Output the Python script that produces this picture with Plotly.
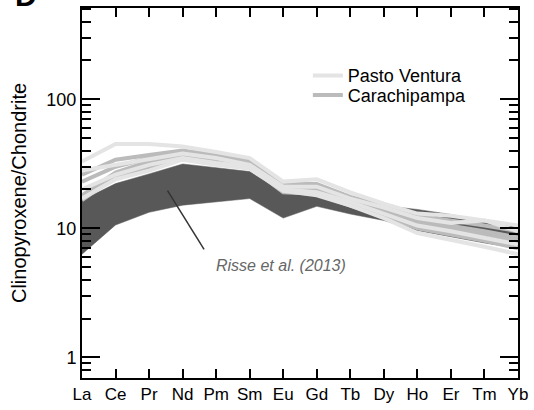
import plotly.graph_objects as go

elements = ["La", "Ce", "Pr", "Nd", "Pm", "Sm", "Eu", "Gd", "Tb", "Dy", "Ho", "Er", "Tm", "Yb"]

# Risse et al. (2013) field
risse_upper = [16.5, 22.2, 26.4, 31.5, 29.5, 27.5, 19.0, 19.5, 16.0, 15.0, 14.0, 12.8, 11.4, 10.2]
risse_lower = [6.3, 10.6, 13.3, 15.1, 16.0, 17.0, 12.0, 14.8, 12.9, 11.5, 9.6, 8.6, 7.7, 7.0]

# Carachipampa samples
cp_1 = [26, 34, 37, 40, 37, 33, 22, 22, 17.5, 15, 12.5, 11.5, 10.5, 9.5]
cp_2 = [23, 30, 35, 38, 35, 32, 21, 20, 16.5, 14, 11.5, 10.5, 9.5, 8.5]
cp_3 = [18, 27, 33, 37, 34, 31, 20, 19.5, 16, 13.5, 11, 10, 9, 8]
cp_4 = [16.5, 25, 30, 35, 32, 30, 19, 18.5, 15, 12.5, 10, 9, 8, 7]

# Pasto Ventura samples
pv_1 = [33, 45, 45, 43, 39, 35, 23, 24, 19, 15.5, 13, 12.5, 11.5, 10.5]
pv_2 = [28, 31, 34, 38, 35, 31, 21, 21, 17, 14.5, 12, 11, 11.5, 9.5]
pv_3 = [20, 26, 31, 35, 32, 30, 20, 19, 16, 13, 10.5, 9.5, 8.5, 7.5]
pv_4 = [17, 24, 28, 34, 31, 29, 19.5, 18, 15, 12, 9.2, 8.2, 7.2, 6.3]

# leader line for annotation (element index, value)
leader_x = [2.55, 3.64]
leader_y = [19.6, 6.87]

xs = list(range(len(elements)))
FONT = "Liberation Sans, Arial, sans-serif"
Y_RANGE = [-0.16, 2.707]
X_RANGE = [0, 13]

fig = go.Figure()

fig.add_trace(go.Scatter(
    x=xs + xs[::-1], y=risse_upper + risse_lower[::-1],
    fill="toself", fillcolor="#585858", mode="lines",
    line=dict(color="#585858", width=0.5), showlegend=False, hoverinfo="skip"))

for i, s in enumerate([cp_1, cp_2, cp_3, cp_4]):
    fig.add_trace(go.Scatter(
        x=xs, y=s, mode="lines", line=dict(color="#bbbbbb", width=4),
        name="Carachipampa", legendgroup="cp", legend="legend2", showlegend=(i == 0)))

for i, s in enumerate([pv_1, pv_2, pv_3, pv_4]):
    fig.add_trace(go.Scatter(
        x=xs, y=s, mode="lines", line=dict(color="#e4e4e4", width=4),
        name="Pasto Ventura", legendgroup="pv", legend="legend", showlegend=(i == 0)))

fig.add_trace(go.Scatter(
    x=leader_x, y=leader_y, mode="lines", line=dict(color="#333333", width=1.5),
    showlegend=False, hoverinfo="skip"))

# invisible traces to activate the mirrored tick axes (top and right)
fig.add_trace(go.Scatter(
    x=[xs[0]], y=[risse_upper[0]], xaxis="x2", yaxis="y", mode="markers",
    marker=dict(opacity=0), showlegend=False, hoverinfo="skip"))
fig.add_trace(go.Scatter(
    x=[xs[0]], y=[risse_upper[0]], xaxis="x", yaxis="y2", mode="markers",
    marker=dict(opacity=0), showlegend=False, hoverinfo="skip"))

fig.add_annotation(
    x=5.92, y=0.715, xref="x", yref="y", text="<i>Risse et al. (2013)</i>",
    showarrow=False, font=dict(family=FONT, size=16, color="#666666"))

fig.add_annotation(
    x=-0.128, y=0.984, xref="paper", yref="paper", text="<b>D</b>",
    showarrow=False, xanchor="center", yanchor="bottom",
    font=dict(family=FONT, size=30, color="black"))

common_y = dict(type="log", range=Y_RANGE, dtick=1, showgrid=False, zeroline=False,
                ticks="inside", ticklen=18, tickwidth=2, tickcolor="black",
                minor=dict(dtick="D1", ticks="inside", ticklen=9, tickwidth=2,
                           tickcolor="black", showgrid=False))
common_x = dict(range=X_RANGE, tickmode="array", tickvals=xs, ticktext=elements,
                showgrid=False, zeroline=False, ticks="inside", ticklen=9,
                tickwidth=2, tickcolor="black")

fig.update_layout(
    width=534, height=410,
    margin=dict(l=82, r=14, t=6, b=27),
    paper_bgcolor="white", plot_bgcolor="white",
    font=dict(family=FONT, size=17, color="black"),
    legend=dict(x=0.518, y=0.867, xanchor="left", yanchor="top",
                bgcolor="rgba(0,0,0,0)", font=dict(family=FONT, size=18)),
    legend2=dict(x=0.518, y=0.814, xanchor="left", yanchor="top",
                 bgcolor="rgba(0,0,0,0)", font=dict(family=FONT, size=18)),
    xaxis=dict(**common_x, showline=True, linecolor="black", linewidth=2, mirror=True,
               tickfont=dict(family=FONT, size=17)),
    yaxis=dict(**common_y, showline=True, linecolor="black", linewidth=2, mirror=True,
               tickfont=dict(family=FONT, size=18),
               title=dict(text="Clinopyroxene/Chondrite", font=dict(family=FONT, size=20),
                          standoff=14)),
    xaxis2=dict(**common_x, overlaying="x", side="top", anchor="y",
                showticklabels=False, showline=False),
    yaxis2=dict(**common_y, overlaying="y", side="right", anchor="x",
                showticklabels=False, showline=False),
)

fig.write_html("out.html")
